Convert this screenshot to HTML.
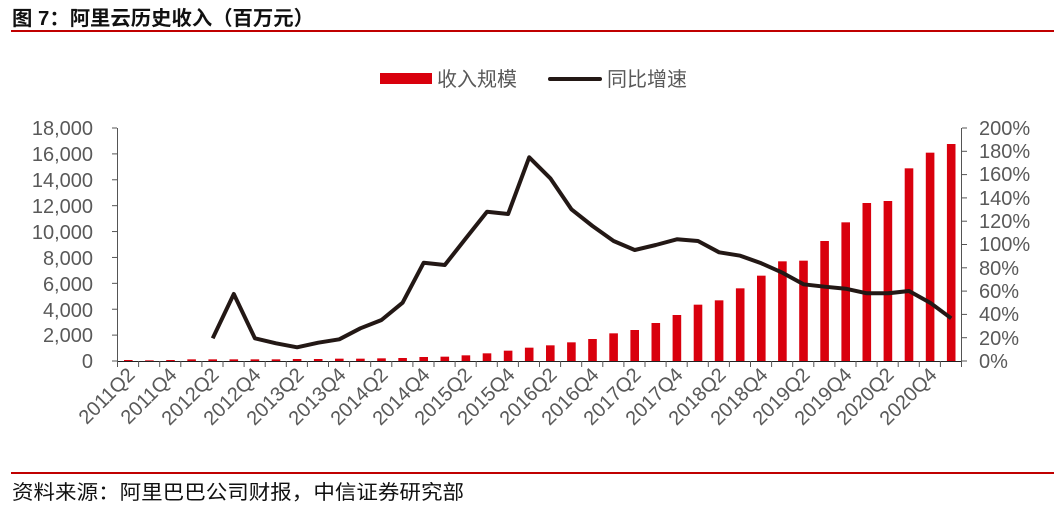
<!DOCTYPE html>
<html><head><meta charset="utf-8"><style>
body{margin:0;background:#fff;}
svg{display:block;}
text{font-family:"Liberation Sans","Noto Sans CJK SC",sans-serif;}
</style></head><body>
<svg width="1064" height="510" xmlns="http://www.w3.org/2000/svg">
<text x="12" y="25" font-size="20" fill="#111" font-weight="bold" textLength="302" lengthAdjust="spacingAndGlyphs">图 7：阿里云历史收入（百万元）</text>
<rect x="11" y="30" width="1043" height="2" fill="#c00000"/>
<rect x="11" y="472" width="1043" height="2" fill="#c00000"/>
<text x="12" y="499" font-size="20" fill="#111" textLength="452" lengthAdjust="spacingAndGlyphs">资料来源：阿里巴巴公司财报，中信证券研究部</text>
<rect x="380" y="73" width="52" height="11" fill="#d9000d"/>
<text x="437" y="86" font-size="20" fill="#595959">收入规模</text>
<line x1="550" y1="79" x2="600" y2="79" stroke="#231815" stroke-width="4" stroke-linecap="round"/>
<text x="607" y="86" font-size="20" fill="#595959">同比增速</text>
<g id="bars" fill="#d9000d"></g>
<line x1="117.5" y1="128" x2="117.5" y2="361" stroke="#555"/>
<line x1="961.5" y1="128" x2="961.5" y2="361" stroke="#555"/>
<line x1="117" y1="361.5" x2="962" y2="361.5" stroke="#222"/>
<g id="ticks" stroke="#555"></g>
<polyline id="ln" fill="none" stroke="#231815" stroke-width="4" stroke-linejoin="round"/>
<g font-size="20" fill="#595959" text-anchor="end">
<text x="93" y="135">18,000</text><text x="93" y="161">16,000</text><text x="93" y="187">14,000</text><text x="93" y="213">12,000</text><text x="93" y="239">10,000</text><text x="93" y="265">8,000</text><text x="93" y="291">6,000</text><text x="93" y="317">4,000</text><text x="93" y="342">2,000</text><text x="93" y="368">0</text>
</g>
<g font-size="20" fill="#595959">
<text x="979" y="135">200%</text><text x="979" y="158">180%</text><text x="979" y="181">160%</text><text x="979" y="205">140%</text><text x="979" y="228">120%</text><text x="979" y="251">100%</text><text x="979" y="275">80%</text><text x="979" y="298">60%</text><text x="979" y="321">40%</text><text x="979" y="345">20%</text><text x="979" y="368">0%</text>
</g>
<g font-size="20" fill="#595959" text-anchor="end">
<text transform="translate(136,376) rotate(-45)">2011Q2</text>
<text transform="translate(178,376) rotate(-45)">2011Q4</text>
<text transform="translate(220,376) rotate(-45)">2012Q2</text>
<text transform="translate(262,376) rotate(-45)">2012Q4</text>
<text transform="translate(305,376) rotate(-45)">2013Q2</text>
<text transform="translate(347,376) rotate(-45)">2013Q4</text>
<text transform="translate(389,376) rotate(-45)">2014Q2</text>
<text transform="translate(431,376) rotate(-45)">2014Q4</text>
<text transform="translate(473,376) rotate(-45)">2015Q2</text>
<text transform="translate(516,376) rotate(-45)">2015Q4</text>
<text transform="translate(558,376) rotate(-45)">2016Q2</text>
<text transform="translate(600,376) rotate(-45)">2016Q4</text>
<text transform="translate(642,376) rotate(-45)">2017Q2</text>
<text transform="translate(684,376) rotate(-45)">2017Q4</text>
<text transform="translate(727,376) rotate(-45)">2018Q2</text>
<text transform="translate(769,376) rotate(-45)">2018Q4</text>
<text transform="translate(811,376) rotate(-45)">2019Q2</text>
<text transform="translate(853,376) rotate(-45)">2019Q4</text>
<text transform="translate(895,376) rotate(-45)">2020Q2</text>
<text transform="translate(938,376) rotate(-45)">2020Q4</text>
</g>
</svg>
<script>
var NS="http://www.w3.org/2000/svg";
var z=[750,751,750,748,748,748,748,748,747,747,746,746,745,744,741,740,736,730,722,713,706,697,687,670,660,639,615,584,571,535,497,454,452,393,337,279,273,175,128,102];
var b=document.getElementById("bars");
for(var i=0;i<40;i++){var x=128.3+21.1*i;var y=110+z[i]/3;var r=document.createElementNS(NS,"rect");
r.setAttribute("x",x-4.3);r.setAttribute("y",y);r.setAttribute("width",8.6);r.setAttribute("height",361-y);b.appendChild(r);}
var t=document.getElementById("ticks");
function ln(x1,y1,x2,y2){var l=document.createElementNS(NS,"line");l.setAttribute("x1",x1);l.setAttribute("x2",x2);l.setAttribute("y1",y1);l.setAttribute("y2",y2);t.appendChild(l);}
for(var i=0;i<=40;i++){var x=117.5+21.1*i;ln(x,361,x,367);}
for(var k=0;k<=9;k++){var y=128+k*233/9;ln(112,y,117,y);}
for(var k=0;k<=10;k++){var y=128+k*23.3;ln(962,y,967,y);}
var ly=[338.3,294,338.3,343.3,347.3,342.7,339.3,328.3,320,302.7,262.7,265,238.3,211.7,214,157.3,178.3,209.3,226,241,250,245,239.3,241,252.3,255.7,263.3,272.7,284.3,286.7,288.7,293.3,293.3,291,302.7,318.3];
var p=[];for(var j=0;j<ly.length;j++){p.push((128.3+21.1*(j+4)).toFixed(1)+","+ly[j]);}
document.getElementById("ln").setAttribute("points",p.join(" "));
</script>
</body></html>
